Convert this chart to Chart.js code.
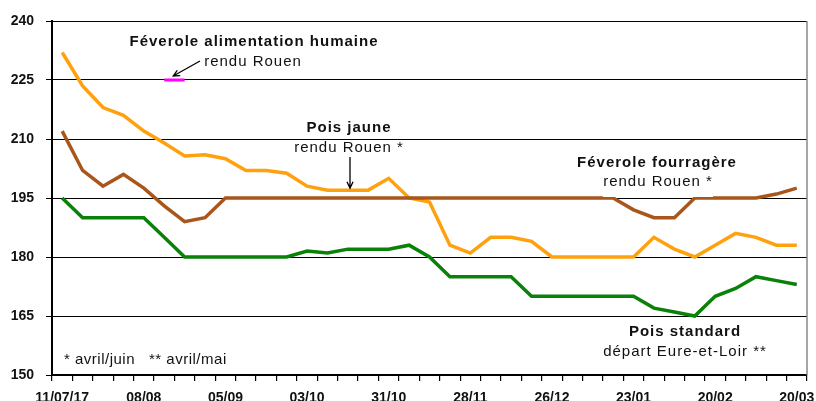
<!DOCTYPE html>
<html>
<head>
<meta charset="utf-8">
<script src="https://cdn.jsdelivr.net/npm/chart.js@4.4.0/dist/chart.umd.min.js"></script>
<style>
  html, body { margin: 0; padding: 0; background: #fff; }
  #wrap { width: 816px; height: 401px; }
</style>
</head>
<body>
<div id="wrap"><canvas id="priceChart" width="816" height="401"></canvas></div>
<script>
// weekly quotes, 11/07/17 -> 20/03/18
const weeks = ['11/07/17', '18/07', '25/07', '01/08', '08/08', '15/08', '22/08', '29/08',
  '05/09', '12/09', '19/09', '26/09', '03/10', '10/10', '17/10', '24/10',
  '31/10', '07/11', '14/11', '21/11', '28/11', '05/12', '12/12', '19/12',
  '26/12', '02/01', '09/01', '16/01', '23/01', '30/01', '06/02', '13/02',
  '20/02', '27/02', '06/03', '13/03', '20/03'];
const shownLabels = ['11/07/17', '08/08', '05/09', '03/10', '31/10', '28/11', '26/12', '23/01', '20/02', '20/03'];

const poisJaune = [232, 223.5, 218, 216, 212, 209, 205.7, 206, 205, 202, 202, 201.3, 198, 197, 197, 197,
  200, 195, 194, 183, 181, 185, 185, 184, 180, 180, 180, 180, 180, 185, 182, 180,
  183, 186, 185, 183, 183];
const feveroleFourragere = [212, 202, 198, 201, 197.5, 193, 189, 190, 195, 195, 195, 195, 195, 195, 195, 195,
  195, 195, 195, 195, 195, 195, 195, 195, 195, 195, 195, 195, 192, 190, 190, 195,
  195, 195, 195, 196, 197.5];
const poisStandard = [195, 190, 190, 190, 190, 185, 180, 180, 180, 180, 180, 180, 181.5, 181, 182, 182,
  182, 183, 180, 175, 175, 175, 175, 170, 170, 170, 170, 170, 170, 167, 166, 165,
  170, 172, 175, 174, 173];
// only one quote for human-food faba bean
const feveroleHumaine = weeks.map((w, i) => (i === 5 || i === 6) ? 225 : null);

const yTicks = [150, 165, 180, 195, 210, 225, 240];

const ORANGE = '#FFA10F';
const BROWN = '#A8561C';
const GREEN = '#0A820A';
const MAGENTA = '#FF00FF';

function arrow(ctx, x1, y1, x2, y2) {
  const a = Math.atan2(y2 - y1, x2 - x1);
  const h = 7;
  ctx.beginPath();
  ctx.moveTo(x1, y1);
  ctx.lineTo(x2, y2);
  ctx.moveTo(x2 - h * Math.cos(a - 0.45), y2 - h * Math.sin(a - 0.45));
  ctx.lineTo(x2, y2);
  ctx.lineTo(x2 - h * Math.cos(a + 0.45), y2 - h * Math.sin(a + 0.45));
  ctx.stroke();
}

const notes = {
  id: 'notes',
  afterDatasetsDraw(chart) {
    const ctx = chart.ctx;
    const area = chart.chartArea;
    ctx.save();
    // right frame
    ctx.strokeStyle = '#888';
    ctx.lineWidth = 1.5;
    ctx.beginPath();
    ctx.moveTo(area.right, area.top);
    ctx.lineTo(area.right, area.bottom);
    ctx.stroke();

    ctx.textAlign = 'center';
    ctx.textBaseline = 'middle';
    ctx.letterSpacing = '1px';
    const bold = 'bold 15px "Liberation Sans", Arial, sans-serif';
    const norm = '15px "Liberation Sans", Arial, sans-serif';

    // white box under the subtitle of féverole fourragère
    ctx.fillStyle = '#fff';
    ctx.fillRect(603, 172, 110, 25);
    ctx.fillStyle = '#111';

    const labels = [
      ['Féverole alimentation humaine', 'rendu Rouen', 254, 42, 253, 62],
      ['Pois jaune', 'rendu Rouen *', 349, 128, 349, 148],
      ['Féverole fourragère', 'rendu Rouen *', 657, 163, 658, 182],
      ['Pois standard', 'départ Eure-et-Loir **', 685, 332, 685, 352]
    ];
    labels.forEach(l => {
      ctx.font = bold;
      ctx.fillText(l[0], l[2], l[3]);
      ctx.font = norm;
      ctx.fillText(l[1], l[4], l[5]);
    });

    ctx.textAlign = 'left';
    ctx.font = norm;
    ctx.letterSpacing = '0.5px';
    ctx.fillText('* avril/juin   ** avril/mai', 64, 360);

    ctx.strokeStyle = '#000';
    ctx.lineWidth = 1.3;
    const x = chart.scales.x, y = chart.scales.y;
    arrow(ctx, 200, 61, x.getPixelForValue(5) + 9, y.getPixelForValue(225) - 4);
    arrow(ctx, 350, 157, 350, y.getPixelForValue(197) - 2);
    ctx.restore();
  }
};

const lineSet = (label, data, color, width) => ({
  label: label,
  data: data,
  borderColor: color,
  backgroundColor: color,
  borderWidth: width,
  pointRadius: 0,
  tension: 0,
  spanGaps: false
});

new Chart(document.getElementById('priceChart').getContext('2d'), {
  type: 'line',
  data: {
    labels: weeks,
    datasets: [
      lineSet('Féverole alimentation humaine', feveroleHumaine, MAGENTA, 3),
      lineSet('Pois standard', poisStandard, GREEN, 3.5),
      lineSet('Féverole fourragère', feveroleFourragere, BROWN, 3.5),
      lineSet('Pois jaune', poisJaune, ORANGE, 3.5)
    ]
  },
  options: {
    responsive: false,
    animation: false,
    layout: { padding: { left: 0, top: 21, right: 9, bottom: 0 } },
    plugins: { legend: { display: false }, tooltip: { enabled: false } },
    scales: {
      x: {
        offset: true,
        grid: { offset: true, drawOnChartArea: false, drawTicks: true, tickLength: 6, color: '#000', lineWidth: 1.2 },
        border: { color: '#000', width: 2 },
        ticks: {
          autoSkip: false,
          maxRotation: 0,
          padding: 9,
          color: '#111',
          font: { family: '"Liberation Sans", Arial, sans-serif', size: 14, weight: 'bold' },
          callback: function (v, i) {
            const l = weeks[i];
            return shownLabels.includes(l) ? l : '';
          }
        },
        afterFit: s => { s.height = 26; s.paddingLeft = 0; s.paddingRight = 0; }
      },
      y: {
        min: 150,
        max: 240,
        afterBuildTicks: s => { s.ticks = yTicks.map(v => ({ value: v })); },
        grid: { color: '#000', lineWidth: 1, tickLength: 6 },
        border: { color: '#000', width: 2 },
        ticks: {
          padding: 12,
          color: '#111',
          font: { family: '"Liberation Sans", Arial, sans-serif', size: 14, weight: 'bold' }
        },
        afterFit: s => { s.width = 52; }
      }
    }
  },
  plugins: [notes]
});
</script>
</body>
</html>
